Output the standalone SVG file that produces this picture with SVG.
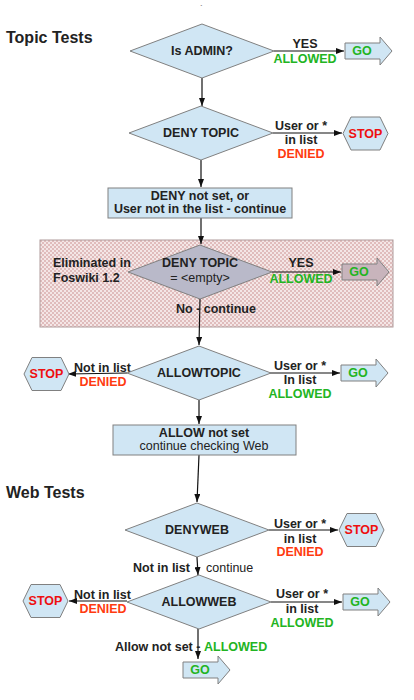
<svg xmlns="http://www.w3.org/2000/svg" width="414" height="700" viewBox="0 0 414 700">
<style>
text{font-family:"Liberation Sans",Arial,sans-serif;fill:#222}
.b{font-weight:bold;font-size:12.5px}
.n{font-size:12.5px}
.h{font-weight:bold;font-size:16px}
.m{text-anchor:middle}
.g{fill:#22b422}
.r{fill:#ff3a10}
.s{fill:#ee1010}
.shape{fill:#d0e6f4;stroke:#808080;stroke-width:1}
.ln{stroke:#111;stroke-width:1.2;fill:none;marker-end:url(#ah)}
</style>
<defs>
<marker id="ah" markerWidth="8" markerHeight="6" refX="8" refY="3" orient="auto" markerUnits="userSpaceOnUse">
<path d="M0,0 L8,3 L0,6 Z" fill="#111"/>
</marker>
<pattern id="chk" width="4" height="4" patternUnits="userSpaceOnUse">
<rect width="4" height="4" fill="#f4e6e6"/>
<rect width="2" height="2" fill="#e0bcbc"/>
<rect x="2" y="2" width="2" height="2" fill="#e0bcbc"/>
</pattern>
<path id="go" d="M0,-8 H35 V-14 L47,0 L35,14 V8 H0 Z"/>
<path id="stop" d="M0,0 L8,-16.5 H37 L45,0 L37,16.5 H8 Z"/>
</defs>
<rect width="414" height="700" fill="#fff"/>
<text x="200" y="10" style="font-size:8px">`</text>
<text class="h" x="6" y="43">Topic Tests</text>
<text class="h" x="6" y="498">Web Tests</text>

<g id="eliminated">
<rect x="40" y="240" width="353" height="87" fill="url(#chk)" stroke="#b09c9c"/>
<text class="b" x="53" y="267">Eliminated in</text>
<text class="b" x="53" y="282">Foswiki 1.2</text>
</g>

<g id="connectors">
<path class="ln" d="M202,78 V106"/>
<path class="ln" d="M274,51 H344"/>
<path class="ln" d="M201,160 V187"/>
<path class="ln" d="M273,133 H342"/>
<path class="ln" d="M201,218 V244"/>
<path class="ln" d="M272,272 H341"/>
<path class="ln" d="M200,299 L199,345"/>
<path class="ln" d="M127,373 L68,374"/>
<path class="ln" d="M270,373 H340"/>
<path class="ln" d="M199,400 V424"/>
<path class="ln" d="M199,455 L197,502"/>
<path class="ln" d="M269,530 H338"/>
<path class="ln" d="M197,557 L198,575"/>
<path class="ln" d="M127,601 H69"/>
<path class="ln" d="M271,602 H342"/>
<path class="ln" d="M198,629 V659"/>
</g>

<g id="labels">
<text class="b m" x="305" y="48">YES</text>
<text class="b m g" x="305" y="63">ALLOWED</text>
<text class="b m" x="301" y="130">User or *</text>
<text class="b m" x="301" y="144">in list</text>
<text class="b m r" x="301" y="158">DENIED</text>
<text class="b m" x="301" y="267">YES</text>
<text class="b m g" x="301" y="283">ALLOWED</text>
<text class="b" x="176" y="313">No - continue</text>
<text class="b" x="74" y="372">Not in list</text>
<text class="b m r" x="103" y="386">DENIED</text>
<text class="b m" x="300" y="370">User or *</text>
<text class="b m" x="300" y="384">In list</text>
<text class="b m g" x="300" y="398">ALLOWED</text>
<text class="b m" x="300" y="528">User or *</text>
<text class="b m" x="300" y="543">in list</text>
<text class="b m r" x="300" y="556">DENIED</text>
<text class="b" x="133" y="572">Not in list</text>
<text class="n" x="206" y="572">continue</text>
<text class="b" x="74" y="599">Not in list</text>
<text class="b m r" x="103" y="613">DENIED</text>
<text class="b m" x="302" y="598">User or *</text>
<text class="b m" x="302" y="613">in list</text>
<text class="b m g" x="302" y="627">ALLOWED</text>
<text class="b" x="115" y="651">Allow not set -</text>
<text class="b g" x="204" y="651">ALLOWED</text>
</g>

<g id="isadmin">
<polygon class="shape" points="130,51 202,24 274,51 202,78"/>
<text class="b m" x="202" y="55">Is ADMIN?</text>
</g>
<g id="go1">
<use href="#go" class="shape" transform="translate(345,51)"/>
<text class="b m g" x="362" y="55">GO</text>
</g>
<g id="denytopic">
<polygon class="shape" points="129,133 201,106 273,133 201,160"/>
<text class="b m" x="201" y="137">DENY TOPIC</text>
</g>
<g id="stop1">
<use href="#stop" class="shape" transform="translate(343,133.5)"/>
<text class="b m s" x="365.5" y="138">STOP</text>
</g>
<g id="denynotset">
<rect class="shape" x="108" y="188" width="184" height="30"/>
<text class="b m" x="200" y="200">DENY not set, or</text>
<text class="b m" x="200" y="213">User not in the list - continue</text>
</g>
<g id="denyempty">
<polygon points="128,272 200,245 272,272 200,299" fill="#b9b9c9" stroke="#808080"/>
<text class="b m" x="200" y="267">DENY TOPIC</text>
<text class="n m" x="200" y="282">= &lt;empty&gt;</text>
</g>
<g id="go2">
<use href="#go" transform="translate(342,272)" fill="#c8b4bc" stroke="#808080"/>
<text class="b m g" x="359" y="276">GO</text>
</g>
<g id="allowtopic">
<polygon class="shape" points="127,373 199,346 271,373 199,400"/>
<text class="b m" x="199" y="377">ALLOWTOPIC</text>
</g>
<g id="stop2">
<use href="#stop" class="shape" transform="translate(24,374)"/>
<text class="b m s" x="46.5" y="378">STOP</text>
</g>
<g id="go3">
<use href="#go" class="shape" transform="translate(341,373)"/>
<text class="b m g" x="358" y="377">GO</text>
</g>
<g id="allownotset">
<rect class="shape" x="113" y="425" width="183" height="30"/>
<text class="b m" x="204" y="437">ALLOW not set</text>
<text class="n m" x="204" y="450">continue checking Web</text>
</g>
<g id="denyweb">
<polygon class="shape" points="125,530 197,503 269,530 197,557"/>
<text class="b m" x="197" y="534">DENYWEB</text>
</g>
<g id="stop3">
<use href="#stop" class="shape" transform="translate(339,530)"/>
<text class="b m s" x="361.5" y="534">STOP</text>
</g>
<g id="allowweb">
<polygon class="shape" points="127,602 199,575 271,602 199,629"/>
<text class="b m" x="199" y="606">ALLOWWEB</text>
</g>
<g id="stop4">
<use href="#stop" class="shape" transform="translate(23,601)"/>
<text class="b m s" x="45.5" y="605">STOP</text>
</g>
<g id="go4">
<use href="#go" class="shape" transform="translate(343,602)"/>
<text class="b m g" x="360" y="606">GO</text>
</g>
<g id="go5">
<use href="#go" class="shape" transform="translate(183,670)"/>
<text class="b m g" x="200" y="674">GO</text>
</g>
</svg>
